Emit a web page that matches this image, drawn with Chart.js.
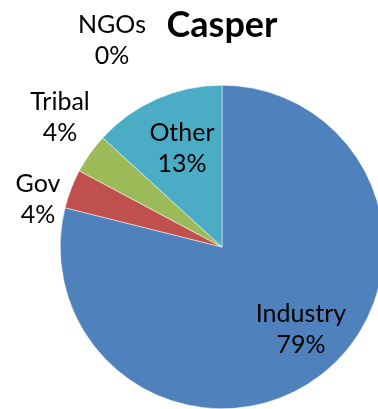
<!DOCTYPE html>
<html>
<head>
<meta charset="utf-8">
<script src="https://cdn.jsdelivr.net/npm/chart.js@4.4.0/dist/chart.umd.min.js"></script>
<style>
  html, body { margin: 0; padding: 0; background: #fff; overflow: hidden; }
  #wrap { position: relative; width: 378px; height: 409px; overflow: hidden; }
  #pie { position: absolute; left: 0; top: 0; }
</style>
</head>
<body>
<div id="wrap"><canvas id="pie" width="390" height="409"></canvas></div>
<script>
// data (percent of total)
const categories = ['Industry', 'Gov', 'Tribal', 'NGOs', 'Other']
const shares = [78.9, 3.9, 4.0, 0.0, 13.2]
const sliceColors = ['#4F81BD', '#C0504D', '#9BBB59', '#8064A2', '#4BACC6']
const chartTitle = 'Casper'

// where each label sits, relative to the pie centre (first line baseline)
const labelOffsets = [[79, 75], [-184, -55], [-162, -137], [-110, -214], [-40, -106]]
const lineGap = 31

const pieLabels = {
    id: 'pieLabels',
    afterDraw(chart) {
        const ctx = chart.ctx
        const arc = chart.getDatasetMeta(0).data[0]
        const cx = arc.x, cy = arc.y
        const total = shares.reduce((a, b) => a + b, 0)
        ctx.save()
        ctx.fillStyle = '#000'
        ctx.textAlign = 'center'
        ctx.textBaseline = 'alphabetic'

        ctx.font = 'bold 36px Lato'
        ctx.fillText(chartTitle, cx, cy - 210)

        ctx.font = '25px Lato'
        categories.forEach((name, i) => {
            const x = cx + labelOffsets[i][0]
            const y = cy + labelOffsets[i][1]
            ctx.fillText(name, x, y)
            ctx.fillText(Math.round(shares[i] / total * 100) + '%', x, y + lineGap)
        })
        ctx.restore()
    }
}

const myChart = new Chart(
    document.getElementById('pie'), {
        type: 'pie',
        data: {
            labels: categories,
            datasets: [{
                data: shares,
                backgroundColor: sliceColors,
                borderColor: '#ffffff',
                borderWidth: 0.5,
            }]
        },
        options: {
            responsive: false,
            animation: false,
            layout: {
                padding: { left: 60, top: 85, right: 6, bottom: 0 }
            },
            plugins: {
                legend: { display: false },
                tooltip: { enabled: false },
                title: { display: false }
            }
        },
        plugins: [pieLabels]
    }
)
</script>
</body>
</html>
